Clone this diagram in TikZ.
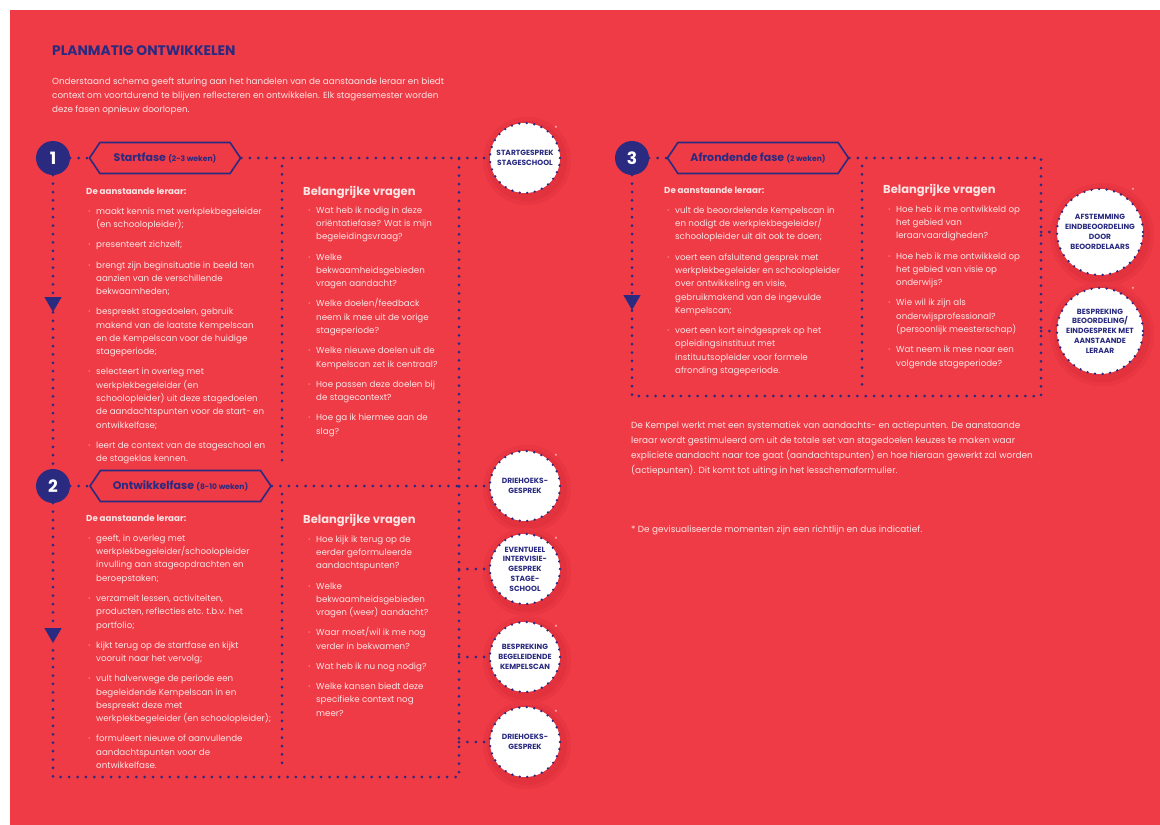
\documentclass[tikz,border=0pt]{standalone}
\usepackage{fontspec}
\setmainfont{Poppins}
\usetikzlibrary{shapes.symbols,shapes.geometric}
\definecolor{bgred}{RGB}{238,59,70}
\definecolor{navy}{RGB}{42,42,128}
\definecolor{txt}{RGB}{253,228,228}
\definecolor{haloinner}{RGB}{226,50,62}
\definecolor{haloouter}{RGB}{232,54,66}
\tikzset{
 dotline/.style={navy, line width=3pt, line cap=round, dash pattern=on 0pt off 8.4pt},
 phasenum/.style={circle, fill=navy, minimum size=34pt, inner sep=0, text=white, font=\fontsize{17}{17}\selectfont\bfseries},
 hexbox/.style={shape=signal, signal to=east and west, signal pointer angle=112, draw=navy, line width=1.6pt, minimum height=31pt, inner sep=0, text=navy, font=\fontsize{11}{11}\selectfont\bfseries},
 moment/.style={circle, fill=white, draw=navy, line width=2.6pt, line cap=round, dash pattern=on 0pt off 7.6pt, minimum size=70pt, inner sep=0, text=navy, align=center, font=\fontsize{7.5}{9.8}\selectfont\bfseries},
 bigmoment/.style={moment, minimum size=86pt},
 arrowtri/.style={regular polygon, regular polygon sides=3, shape border rotate=180, fill=navy, minimum size=20pt, inner sep=0},
 body/.style={anchor=north west, inner sep=0, align=left, text=txt, font=\fontsize{8.7}{13.3}\selectfont},
 head/.style={anchor=north west, inner sep=0, text=txt, font=\fontsize{11.5}{12}\selectfont\bfseries},
 subhead/.style={anchor=north west, inner sep=0, text=txt, font=\fontsize{8.7}{10}\selectfont\bfseries},
 star/.style={text=txt, font=\fontsize{6}{6}\selectfont, inner sep=0},
}
\newcommand{\itm}{\makebox[0pt][r]{·\hspace{6pt}}}
\newcommand{\halo}[3]{%
 \fill[haloouter] (#1+2,#2+3) circle (#3+9);
 \fill[haloinner] (#1+2,#2+3) circle (#3+5);}
\newcommand{\wk}[1]{{\fontsize{7.6}{8}\selectfont #1}}
\begin{document}
\begin{tikzpicture}[x=1pt,y=-1pt]
\useasboundingbox (0,0) rectangle (1160,825);
\fill[white] (0,0) rectangle (1160,825);
\fill[bgred] (10,10) rectangle (1160,825);

% title and intro
\node[anchor=north west, inner sep=0, text=navy, font=\fontsize{13.8}{14}\selectfont\bfseries] (title) at (52,45) {PLANMATIG ONTWIKKELEN};
\node[body, font=\fontsize{8.8}{14.2}\selectfont] (intro) at (52,77.5) {Onderstaand schema geeft sturing aan het handelen van de aanstaande leraar en biedt\\
context om voortdurend te blijven reflecteren en ontwikkelen. Elk stagesemester worden\\
deze fasen opnieuw doorlopen.};

% halos
\halo{525}{158}{35}
\halo{525}{486}{35}
\halo{525}{569}{35}
\halo{525}{657}{35}
\halo{525}{742}{35}
\halo{1100}{232}{43}
\halo{1100}{331}{43}

% phase 1 header
\node[phasenum] (n1) at (53,158) {1};
\node[hexbox, minimum width=151pt] (hex1) at (165,158) {Startfase \wk{(2-3 weken)}};
\node[arrowtri] (tri1) at (53,302) {};
\node[moment] (c1) at (525,158) {STARTGESPREK\\STAGESCHOOL};

% phase 2 header
\node[phasenum] (n2) at (53,486) {2};
\node[hexbox, minimum width=181pt] (hex2) at (180.5,486) {Ontwikkelfase \wk{(8-10 weken)}};
\node[arrowtri] (tri2) at (53,633) {};
\node[moment] (d1) at (525,486) {DRIEHOEKS-\\GESPREK};
\node[moment] (d2) at (525,569) {EVENTUEEL\\INTERVISIE-\\GESPREK\\STAGE-\\SCHOOL};
\node[moment] (d3) at (525,657) {BESPREKING\\BEGELEIDENDE\\KEMPELSCAN};
\node[moment] (d4) at (525,742) {DRIEHOEKS-\\GESPREK};

% phase 3 header
\node[phasenum] (n3) at (632,158) {3};
\node[hexbox, minimum width=181pt] (hex3) at (758,158) {Afrondende fase \wk{(2 weken)}};
\node[arrowtri] (tri3) at (632,300) {};
\node[bigmoment] (e1) at (1100,232) {AFSTEMMING\\EINDBEOORDELING\\DOOR\\BEOORDELAARS};
\node[bigmoment] (e2) at (1100,331) {BESPREKING\\BEOORDELING/\\EINDGESPREK MET\\AANSTAANDE\\LERAAR};

% stars
\node[star] (s1) at (556,128) {*};
\node[star] (s2) at (556,456) {*};
\node[star] (s3) at (556,539) {*};
\node[star] (s4) at (556,627) {*};
\node[star] (s5) at (556,712) {*};
\node[star] (s6) at (1133,190) {*};
\node[star] (s7) at (1133,289) {*};

% coordinates
\coordinate (p1tr) at (459,158);
\coordinate (j2) at (459,486);
\coordinate (j3) at (459,569);
\coordinate (j4) at (459,657);
\coordinate (j5) at (459,742);
\coordinate (p2br) at (459,777);
\coordinate (p2bl) at (53,777);
\coordinate (dv1t) at (282,166);
\coordinate (dv1b) at (282,465);
\coordinate (dv2t) at (282,494);
\coordinate (dv2b) at (282,763);
\coordinate (p3tr) at (1041,158);
\coordinate (k1) at (1041,232);
\coordinate (k2) at (1041,331);
\coordinate (p3br) at (1041,396);
\coordinate (p3bl) at (632,396);
\coordinate (dv3t) at (862,166);
\coordinate (dv3b) at (862,390);

% connectors phase 1/2
\draw[dotline] (n1) -- (hex1);
\draw[dotline] (hex1.east) -- (p1tr) -- (p2br) -- (p2bl) -- (tri2);
\draw[dotline] (p1tr) -- (c1);
\draw[dotline] (n1) -- (tri1);
\draw[dotline] (tri1) -- (n2);
\draw[dotline] (n2) -- (tri2);
\draw[dotline] (n2) -- (hex2);
\draw[dotline] (hex2.east) -- (j2);
\draw[dotline] (j2) -- (d1);
\draw[dotline] (j3) -- (d2);
\draw[dotline] (j4) -- (d3);
\draw[dotline] (j5) -- (d4);
\draw[dotline] (dv1t) -- (dv1b);
\draw[dotline] (dv2t) -- (dv2b);
% phase 3
\draw[dotline] (n3) -- (hex3);
\draw[dotline] (hex3.east) -- (p3tr) -- (p3br) -- (p3bl) -- (tri3);
\draw[dotline] (n3) -- (tri3);
\draw[dotline] (k1) -- (e1);
\draw[dotline] (k2) -- (e2);
\draw[dotline] (dv3t) -- (dv3b);

% phase 1 texts
\node[subhead] (h1a) at (86,188) {De aanstaande leraar:};
\node[body] (b1a) at (96,207.5) {\itm maakt kennis met werkplekbegeleider\\
(en schoolopleider);\\[6.9pt]
\itm presenteert zichzelf;\\[6.9pt]
\itm brengt zijn beginsituatie in beeld ten\\
aanzien van de verschillende\\
bekwaamheden;\\[6.9pt]
\itm bespreekt stagedoelen, gebruik\\
makend van de laatste Kempelscan\\
en de Kempelscan voor de huidige\\
stageperiode;\\[6.9pt]
\itm selecteert in overleg met\\
werkplekbegeleider (en\\
schoolopleider) uit deze stagedoelen\\
de aandachtspunten voor de start- en\\
ontwikkelfase;\\[6.9pt]
\itm leert de context van de stageschool en\\
de stageklas kennen.};
\node[head] (h1b) at (303,186) {Belangrijke vragen};
\node[body] (b1b) at (316,206.5) {\itm Wat heb ik nodig in deze\\
oriëntatiefase? Wat is mijn\\
begeleidingsvraag?\\[6.9pt]
\itm Welke\\
bekwaamheidsgebieden\\
vragen aandacht?\\[6.9pt]
\itm Welke doelen/feedback\\
neem ik mee uit de vorige\\
stageperiode?\\[6.9pt]
\itm Welke nieuwe doelen uit de\\
Kempelscan zet ik centraal?\\[6.9pt]
\itm Hoe passen deze doelen bij\\
de stagecontext?\\[6.9pt]
\itm Hoe ga ik hiermee aan de\\
slag?};

% phase 2 texts
\node[subhead] (h2a) at (86,515) {De aanstaande leraar:};
\node[body] (b2a) at (96,534.5) {\itm geeft, in overleg met\\
werkplekbegeleider/schoolopleider\\
invulling aan stageopdrachten en\\
beroepstaken;\\[6.9pt]
\itm verzamelt lessen, activiteiten,\\
producten, reflecties etc. t.b.v. het\\
portfolio;\\[6.9pt]
\itm kijkt terug op de startfase en kijkt\\
vooruit naar het vervolg;\\[6.9pt]
\itm vult halverwege de periode een\\
begeleidende Kempelscan in en\\
bespreekt deze met\\
werkplekbegeleider (en schoolopleider);\\[6.9pt]
\itm formuleert nieuwe of aanvullende\\
aandachtspunten voor de\\
ontwikkelfase.};
\node[head] (h2b) at (303,514) {Belangrijke vragen};
\node[body] (b2b) at (316,535.5) {\itm Hoe kijk ik terug op de\\
eerder geformuleerde\\
aandachtspunten?\\[6.9pt]
\itm Welke\\
bekwaamheidsgebieden\\
vragen (weer) aandacht?\\[6.9pt]
\itm Waar moet/wil ik me nog\\
verder in bekwamen?\\[6.9pt]
\itm Wat heb ik nu nog nodig?\\[6.9pt]
\itm Welke kansen biedt deze\\
specifieke context nog\\
meer?};

% phase 3 texts
\node[subhead] (h3a) at (664,187) {De aanstaande leraar:};
\node[body] (b3a) at (675,206.5) {\itm vult de beoordelende Kempelscan in\\
en nodigt de werkplekbegeleider/\\
schoolopleider uit dit ook te doen;\\[6.9pt]
\itm voert een afsluitend gesprek met\\
werkplekbegeleider en schoolopleider\\
over ontwikkeling en visie,\\
gebruikmakend van de ingevulde\\
Kempelscan;\\[6.9pt]
\itm voert een kort eindgesprek op het\\
opleidingsinstituut met\\
instituutsopleider voor formele\\
afronding stageperiode.};
\node[head] (h3b) at (883,184) {Belangrijke vragen};
\node[body] (b3b) at (896,205.5) {\itm Hoe heb ik me ontwikkeld op\\
het gebied van\\
leraarvaardigheden?\\[6.9pt]
\itm Hoe heb ik me ontwikkeld op\\
het gebied van visie op\\
onderwijs?\\[6.9pt]
\itm Wie wil ik zijn als\\
onderwijsprofessional?\\
(persoonlijk meesterschap)\\[6.9pt]
\itm Wat neem ik mee naar een\\
volgende stageperiode?};

% bottom texts
\node[body, font=\fontsize{8.9}{15}\selectfont] (note) at (631,421.5) {De Kempel werkt met een systematiek van aandachts- en actiepunten. De aanstaande\\
leraar wordt gestimuleerd om uit de totale set van stagedoelen keuzes te maken waar\\
expliciete aandacht naar toe gaat (aandachtspunten) en hoe hieraan gewerkt zal worden\\
(actiepunten). Dit komt tot uiting in het lesschemaformulier.};
\node[body, font=\fontsize{8.9}{15}\selectfont] (foot) at (631,525.5) {* De gevisualiseerde momenten zijn een richtlijn en dus indicatief.};
\end{tikzpicture}
\end{document}
